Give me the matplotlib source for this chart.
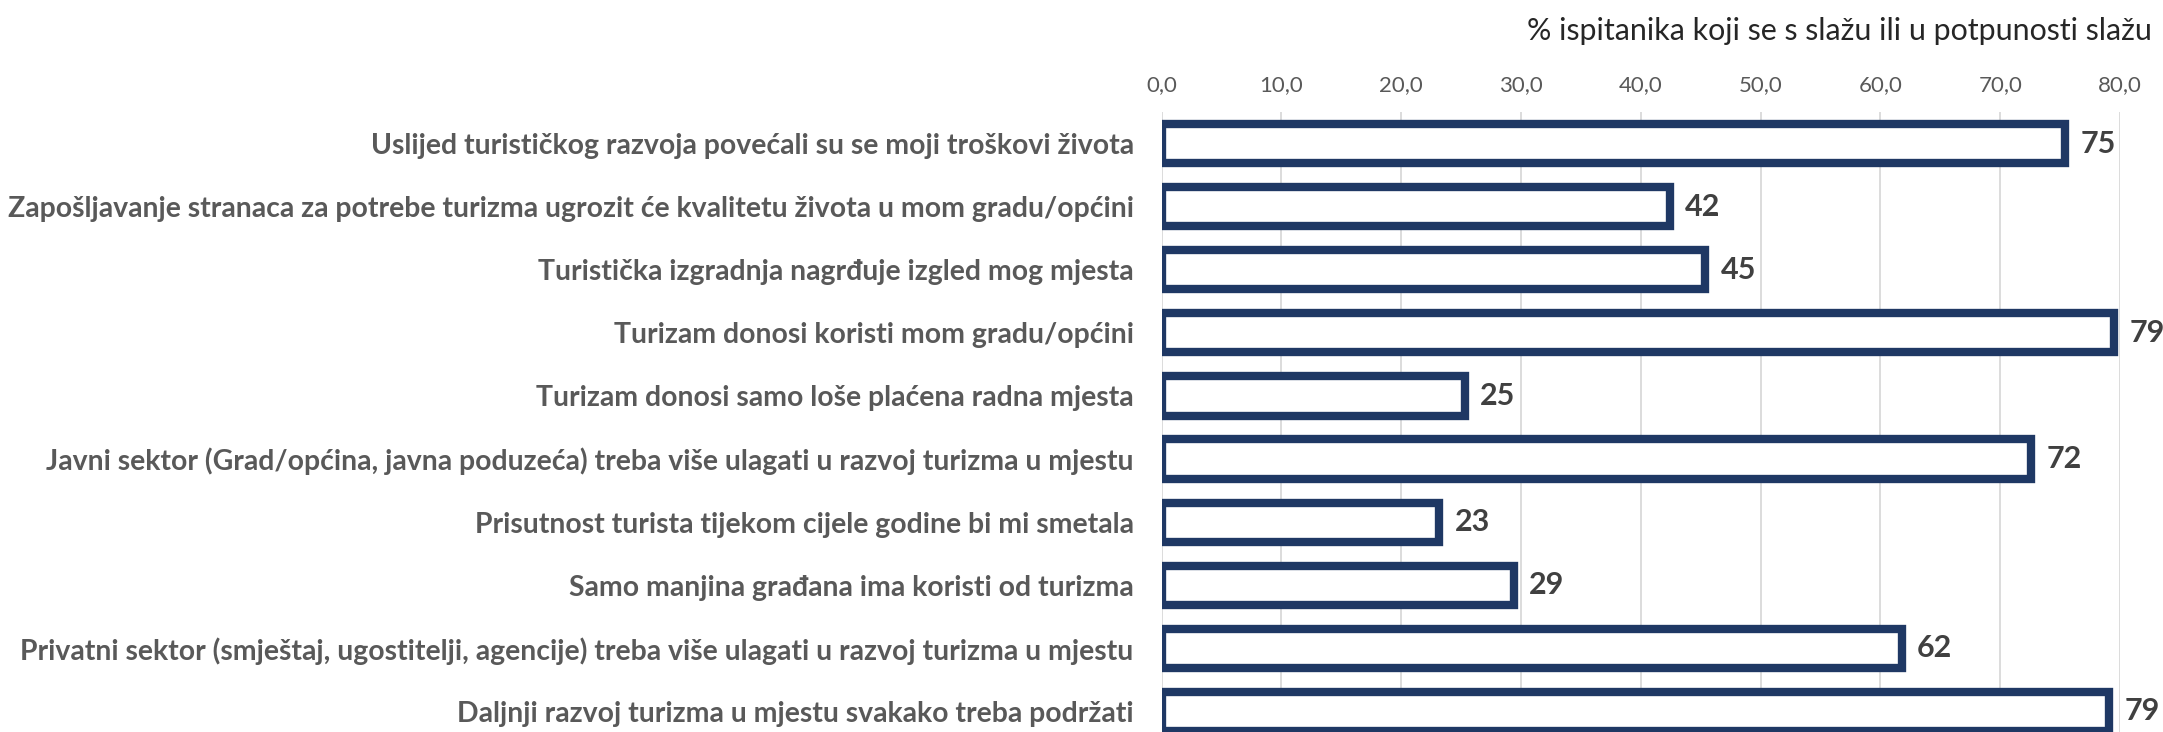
import matplotlib
matplotlib.use("Agg")
import matplotlib.pyplot as plt
from matplotlib.ticker import FixedLocator

categories = [
    "Uslijed turističkog razvoja povećali su se moji troškovi života",
    "Zapošljavanje stranaca za potrebe turizma ugrozit će kvalitetu života u mom gradu/općini",
    "Turistička izgradnja nagrđuje izgled mog mjesta",
    "Turizam donosi koristi mom gradu/općini",
    "Turizam donosi samo loše plaćena radna mjesta",
    "Javni sektor (Grad/općina, javna poduzeća) treba više ulagati u razvoj turizma u mjestu",
    "Prisutnost turista tijekom cijele godine bi mi smetala",
    "Samo manjina građana ima koristi od turizma",
    "Privatni sektor (smještaj, ugostitelji, agencije) treba više ulagati u razvoj turizma u mjestu",
    "Daljnji razvoj turizma u mjestu svakako treba podržati",
]
values = [75.4, 42.4, 45.4, 79.5, 25.3, 72.6, 23.2, 29.4, 61.8, 79.1]
value_labels = ["75", "42", "45", "79", "25", "72", "23", "29", "62", "79"]
xticks = [0, 10, 20, 30, 40, 50, 60, 70, 80]
xtick_labels = ["0,0", "10,0", "20,0", "30,0", "40,0", "50,0", "60,0", "70,0", "80,0"]
title = "% ispitanika koji se s slažu ili u potpunosti slažu"

W, H = 2163, 732
DPI = 100
FONT = ["Lato", "DejaVu Sans"]
plt.rcParams["font.family"] = FONT

fig = plt.figure(figsize=(W / DPI, H / DPI), dpi=DPI)
fig.patch.set_facecolor("white")

ax_left, ax_right = 1161.5, 2120.0
ax_top, ax_bottom = 112.0, 743.0
ax = fig.add_axes([ax_left / W, (H - ax_bottom) / H,
                   (ax_right - ax_left) / W, (ax_bottom - ax_top) / H])

navy = "#1F3864"
ypos = list(range(len(categories)))
ax.barh(ypos, values, height=0.62, color="white", edgecolor=navy,
        linewidth=6, zorder=3)

ax.set_xlim(0, 80)
ax.set_ylim(len(categories) - 0.5, -0.5)

ax.xaxis.set_major_locator(FixedLocator(xticks))
ax.set_xticklabels(xtick_labels)
ax.xaxis.tick_top()
ax.tick_params(axis="x", length=0, pad=12, labelsize=16, labelcolor="#595959")
ax.grid(axis="x", color="#D9D9D9", linewidth=1.3, zorder=0)
ax.set_axisbelow(True)

ax.set_yticks(ypos)
ylabels = ax.set_yticklabels(categories, fontweight="bold", color="#595959",
                             fontsize=20)
ax.tick_params(axis="y", length=0, pad=20)

for s in ax.spines.values():
    s.set_visible(False)

for y, v, lab in zip(ypos, values, value_labels):
    ax.annotate(lab, xy=(v, y), xytext=(11, 0), textcoords="offset points",
                ha="left", va="center", fontsize=22, fontweight="bold",
                color="#404040", annotation_clip=False, zorder=4)

ttl = fig.text(2152 / W, 1 - 31 / H, title, ha="right", va="center",
               fontsize=20, color="#262626")

# fit label and title widths to the reference
fig.canvas.draw()
r = fig.canvas.get_renderer()
maxw = max(t.get_window_extent(r).width for t in ylabels)
fs = 20 * 1123.0 / maxw
for t in ylabels:
    t.set_fontsize(fs)
tw = ttl.get_window_extent(r).width
ttl.set_fontsize(20 * 628.0 / tw)

fig.savefig("out.png", dpi=DPI, facecolor="white")
